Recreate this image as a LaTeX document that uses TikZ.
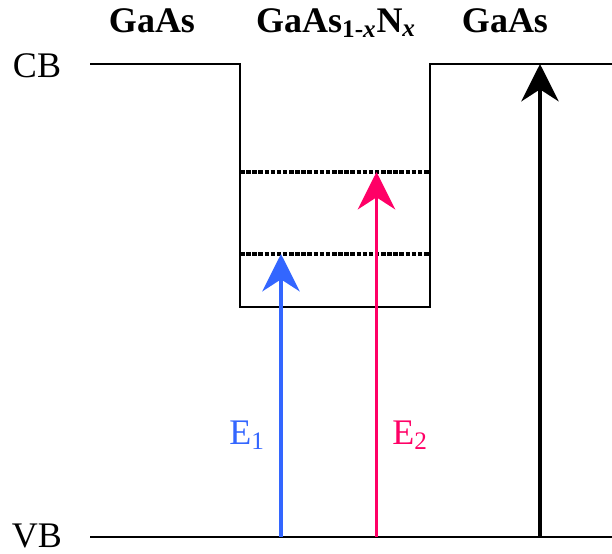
\documentclass[tikz,border=0pt]{standalone}
\usepackage{fontspec}
\setmainfont{Liberation Serif}
\usetikzlibrary{arrows.meta}
\definecolor{eblue}{HTML}{3366FF}
\definecolor{epink}{HTML}{FF0066}
\tikzset{
  band/.style={line width=1.5pt, black},
  level/.style={line width=2.4pt, black, dash pattern=on 3.4pt off 1.2pt},
  trans/.style={line width=2.8pt, -{Stealth[length=28pt, width=28pt, inset=9pt]}},
  lbl/.style={font=\fontsize{27}{31}\selectfont, anchor=base, inner sep=0pt, text depth=0pt},
  ttl/.style={font=\fontsize{27}{31}\selectfont\bfseries, anchor=base, inner sep=0pt, text depth=0pt}
}
\begin{document}
\begin{tikzpicture}[x=0.75pt, y=-0.75pt]
\useasboundingbox (0,0) rectangle (612,554);
% titles
\node[ttl] (t1) at (152,32) {GaAs};
\node[ttl] (t2) at (336,32) {GaAs\textsubscript{1-\textit{x}}N\textsubscript{\textit{x}}};
\node[ttl] (t3) at (505,32) {GaAs};
% band labels
\node[lbl] (cb) at (37,77) {CB};
\node[lbl] (vb) at (37,547) {VB};
% band edges
\coordinate (cbL) at (90,64);
\coordinate (wTL) at (240,64);
\coordinate (wBL) at (240,307);
\coordinate (wBR) at (430,307);
\coordinate (wTR) at (430,64);
\coordinate (cbR) at (612,64);
\draw[band] (cbL) -- (wTL) -- (wBL) -- (wBR) -- (wTR) -- (cbR);
\coordinate (vbL) at (90,537);
\coordinate (vbR) at (612,537);
\draw[band] (vbL) -- (vbR);
% confined levels
\coordinate (l2L) at (240,172);
\coordinate (l2R) at (430,172);
\coordinate (l1L) at (240,254);
\coordinate (l1R) at (430,254);
\draw[level] (l2L) -- (l2R);
\draw[level] (l1L) -- (l1R);
% transitions
\coordinate (b0) at (281,537);
\coordinate (b1) at (281,254);
\coordinate (p0) at (376.5,537);
\coordinate (p1) at (376.5,172);
\coordinate (k0) at (540,537);
\coordinate (k1) at (540,64);
\draw[trans, eblue] (b0) -- (b1);
\draw[trans, epink] (p0) -- (p1);
\draw[trans, black] (k0) -- (k1);
\node[lbl, text=eblue] (e1) at (247,444) {E\textsubscript{1}};
\node[lbl, text=epink] (e2) at (410,444) {E\textsubscript{2}};
\end{tikzpicture}
\end{document}
